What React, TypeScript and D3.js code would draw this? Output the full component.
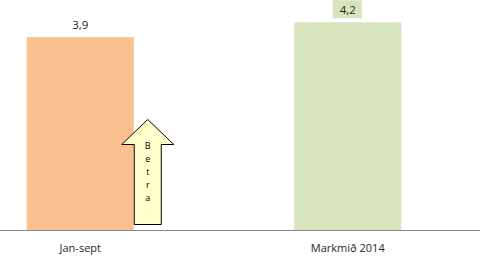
import React, { useEffect, useRef } from 'react';
import * as d3 from 'd3';

const categories = ['Jan-sept', 'Markmið 2014'];
const values = [3.9, 4.2];
const valueLabels = ['3,9', '4,2'];
const barColors = ['#FAC090', '#D7E4BD'];
const arrowLetters = ['B', 'e', 't', 'r', 'a'];

const W = 480;
const H = 256;
const FONT = '"Open Sans", "DejaVu Sans", sans-serif';

export default function App() {
  const ref = useRef<SVGSVGElement>(null);

  useEffect(() => {
    const svg = d3.select(ref.current);
    svg.selectAll('*').remove();

    const baseY = 230;
    const x = d3.scaleBand<string>()
      .domain(categories)
      .range([0, 428])
      .paddingInner(0.6)
      .paddingOuter(0.1);
    const y = d3.scaleLinear().domain([0, 4.65]).range([baseY, 0]);

    const data = categories.map((c, i) => ({ c, v: values[i], label: valueLabels[i], color: barColors[i] }));

    svg.append('g').selectAll('rect')
      .data(data)
      .enter().append('rect')
        .attr('x', (d) => x(d.c)!)
        .attr('y', (d) => y(d.v))
        .attr('width', x.bandwidth())
        .attr('height', (d) => baseY - y(d.v))
        .attr('fill', (d) => d.color);

    // value labels (second one has a coloured box behind it)
    const lbl = svg.append('g');
    data.forEach((d, i) => {
      const cx = x(d.c)! + x.bandwidth() / 2;
      const ty = y(d.v) - 13;
      if (i === 1) {
        lbl.append('rect')
          .attr('x', cx - 15)
          .attr('y', ty - 9)
          .attr('width', 29)
          .attr('height', 18)
          .attr('fill', d.color);
      }
      lbl.append('text')
        .attr('x', cx)
        .attr('y', ty)
        .attr('text-anchor', 'middle')
        .attr('dominant-baseline', 'central')
        .style('font-family', FONT)
        .style('font-size', '11.5px')
        .attr('fill', '#262626')
        .text(d.label);
    });

    // axis line
    svg.append('line')
      .attr('x1', 0).attr('x2', W)
      .attr('y1', baseY + 0.5).attr('y2', baseY + 0.5)
      .attr('stroke', '#868686')
      .attr('stroke-width', 1);

    svg.append('g').selectAll('text')
      .data(categories)
      .enter().append('text')
        .attr('x', (d) => x(d)! + x.bandwidth() / 2)
        .attr('y', 252)
        .attr('text-anchor', 'middle')
        .style('font-family', FONT)
        .style('font-size', '11px')
        .attr('fill', '#262626')
        .text((d) => d);

    // "Betra" arrow
    const sl = x(categories[0])! + x.bandwidth() + 0.5;
    const sr = sl + 27;
    const cx = (sl + sr) / 2;
    const tip = 119.5, headBase = 144.5, bottom = 224.5;
    const pts: [number, number][] = [
      [sl, bottom], [sl, headBase], [cx - 26, headBase], [cx, tip],
      [cx + 26, headBase], [sr, headBase], [sr, bottom],
    ];
    svg.append('path')
      .attr('d', d3.line()(pts) + 'Z')
      .attr('fill', '#FFFFCC')
      .attr('stroke', '#000')
      .attr('stroke-width', 1);

    svg.append('g').selectAll('text')
      .data(arrowLetters)
      .enter().append('text')
        .attr('x', cx)
        .attr('y', (d, i) => 145 + i * 13)
        .attr('text-anchor', 'middle')
        .attr('dominant-baseline', 'central')
        .style('font-family', FONT)
        .style('font-size', '9px')
        .attr('fill', '#000')
        .text((d) => d);
  }, []);

  return (
    <svg ref={ref} width={W} height={H} style={{ position: 'absolute', left: 0, top: 0 }} />
  );
}
